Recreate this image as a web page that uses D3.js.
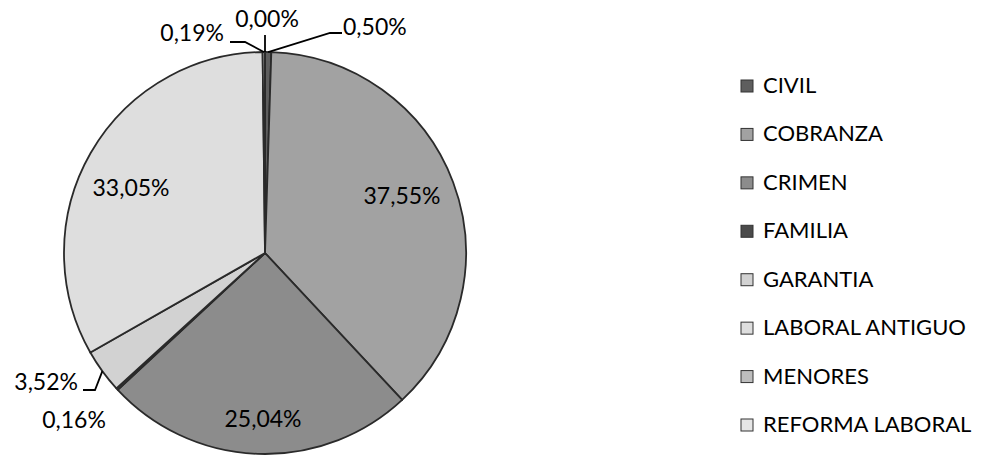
<!DOCTYPE html>
<html>
<head>
<meta charset="utf-8">
<script src="https://cdn.jsdelivr.net/npm/d3@7"></script>
<style>
  body { margin: 0; background: #fff; }
  text { font-family: Lato, "Open Sans", sans-serif; fill: #000; }
</style>
</head>
<body>
<svg id="chart" width="983" height="461"></svg>
<script>
// data (clockwise from 12 o'clock)
const categories = ["CIVIL", "COBRANZA", "CRIMEN", "FAMILIA", "GARANTIA", "LABORAL ANTIGUO", "MENORES", "REFORMA LABORAL"];
const values = [0.50, 37.55, 25.04, 0.16, 3.52, 33.05, 0.19, 0.00];
const labels = ["0,50%", "37,55%", "25,04%", "0,16%", "3,52%", "33,05%", "0,19%", "0,00%"];

// greys of the scanned print
const fills = ["#5e5e5e", "#a2a2a2", "#8c8c8c", "#4a4a4a", "#d2d2d2", "#dedede", "#bdbdbd", "#e6e6e6"];

// label layout: text anchor point + optional leader elbow/end
const labelLayout = {
  "CIVIL":           { x: 343, y: 35,  anchor: "start",  leader: [[330, 33], [342, 33]] },
  "COBRANZA":        { x: 402, y: 204, anchor: "middle" },
  "CRIMEN":          { x: 263, y: 427, anchor: "middle" },
  "FAMILIA":         { x: 74,  y: 428, anchor: "middle" },
  "GARANTIA":        { x: 78,  y: 390, anchor: "end",    leader: [[95, 390], [83, 390]] },
  "LABORAL ANTIGUO": { x: 131, y: 196, anchor: "middle" },
  "MENORES":         { x: 224, y: 41,  anchor: "end",    leader: [[245, 42], [230, 42]] },
  "REFORMA LABORAL": { x: 267, y: 27,  anchor: "middle", leader: [[265, 35]] }
};

const svg = d3.select("#chart");
const cx = 265, cy = 253, r = 201;

const data = categories.map((c, i) => ({ name: c, value: values[i], label: labels[i], fill: fills[i] }));

const pie = d3.pie().sort(null).value(d => d.value).startAngle(0).endAngle(2 * Math.PI);
const arcs = pie(data);

const arc = d3.arc().innerRadius(0).outerRadius(r);
const rim = d3.arc().innerRadius(r).outerRadius(r);

const g = svg.append("g").attr("transform", `translate(${cx},${cy})`);

g.selectAll("path.slice")
  .data(arcs)
  .enter().append("path")
  .attr("class", "slice")
  .attr("d", arc)
  .attr("fill", d => d.data.fill)
  .attr("stroke", "#2a2a2a")
  .attr("stroke-width", 1.8)
  .attr("stroke-linejoin", "round");

// leader lines
const line = d3.line();
arcs.forEach(d => {
  const lay = labelLayout[d.data.name];
  if (!lay.leader) return;
  const p = rim.centroid(d);
  const pts = [[p[0] + cx, p[1] + cy]].concat(lay.leader);
  svg.append("path")
    .attr("d", line(pts))
    .attr("fill", "none")
    .attr("stroke", "#000")
    .attr("stroke-width", 1.8);
});

// slice labels
svg.selectAll("text.lbl")
  .data(arcs)
  .enter().append("text")
  .attr("class", "lbl")
  .attr("x", d => labelLayout[d.data.name].x)
  .attr("y", d => labelLayout[d.data.name].y)
  .attr("text-anchor", d => labelLayout[d.data.name].anchor)
  .style("font-size", "23px")
  .text(d => d.data.label);

// legend
const legendY = d3.scalePoint().domain(categories).range([93, 432]);
const legend = svg.append("g");
const item = legend.selectAll("g")
  .data(data)
  .enter().append("g")
  .attr("transform", d => `translate(741,${legendY(d.name)})`);

item.append("rect")
  .attr("x", 0)
  .attr("y", -13)
  .attr("width", 12)
  .attr("height", 12)
  .attr("fill", d => d.fill)
  .attr("stroke", "#333")
  .attr("stroke-width", 1);

item.append("text")
  .attr("x", 22)
  .attr("y", 0)
  .style("font-size", "22px")
  .text(d => d.name);
</script>
</body>
</html>
